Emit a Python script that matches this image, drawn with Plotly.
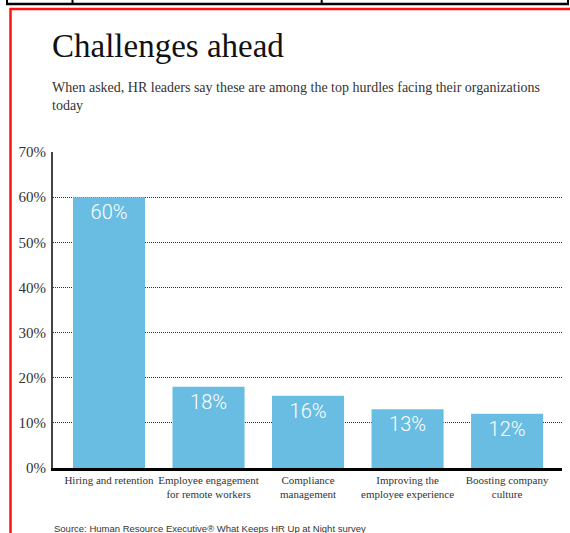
import plotly.graph_objects as go

# ---- data ----
categories = [
    "Hiring and retention",
    "Employee engagement<br>for remote workers",
    "Compliance<br>management",
    "Improving the<br>employee experience",
    "Boosting company<br>culture",
]
values = [60, 18, 16, 13, 12]
tick_values = [0, 10, 20, 30, 40, 50, 60, 70]
tick_labels = [f"{t}%" for t in tick_values]

title_text = "Challenges ahead"
subtitle_text = ("When asked, HR leaders say these are among the top hurdles facing their organizations"
                 "<br>today")
source_text = "Source: Human Resource Executive® What Keeps HR Up at Night survey"

# ---- layout geometry (pixels) ----
W, H = 570, 533
L, R, T, B = 53, 8, 152, 65
PW, PH = W - L - R, H - T - B


def px2x(px):
    return (px - L) / PW


def py2y(py):
    return (H - B - py) / PH


SERIF = "Liberation Serif"
xs = list(range(len(categories)))

fig = go.Figure()
fig.add_trace(go.Bar(
    x=xs,
    y=values,
    width=0.724,
    marker=dict(color="#69bde3", line=dict(width=0)),
    text=[f"{v}%" for v in values],
    textposition="inside",
    insidetextanchor="end",
    textangle=0,
    textfont=dict(family="Roboto", size=20, color="white", weight=300),
    hoverinfo="skip",
))

shapes = []
# black table lines at top
shapes.append(dict(type="line", xref="paper", yref="paper",
                   x0=px2x(6), x1=px2x(569), y0=py2y(4), y1=py2y(4),
                   line=dict(color="black", width=2.5)))
for vx in [7, 72.5, 321.7, 568]:
    shapes.append(dict(type="line", xref="paper", yref="paper",
                       x0=px2x(vx), x1=px2x(vx), y0=py2y(-5), y1=py2y(4),
                       line=dict(color="black", width=2)))
# red frame
shapes.append(dict(type="line", xref="paper", yref="paper",
                   x0=px2x(10), x1=px2x(580), y0=py2y(9), y1=py2y(9),
                   line=dict(color="#ff1010", width=2.5)))
shapes.append(dict(type="line", xref="paper", yref="paper",
                   x0=px2x(10.5), x1=px2x(10.5), y0=py2y(8), y1=py2y(545),
                   line=dict(color="#ff1010", width=2.5)))

annotations = [
    dict(text=title_text, xref="paper", yref="paper", x=px2x(50), y=py2y(66),
         xanchor="left", yanchor="bottom", showarrow=False,
         font=dict(family=SERIF, size=33, color="#111")),
    dict(text=subtitle_text, xref="paper", yref="paper", x=px2x(50), y=py2y(78),
         xanchor="left", yanchor="top", showarrow=False, align="left",
         font=dict(family=SERIF, size=14, color="#333")),
    dict(text=source_text, xref="paper", yref="paper", x=px2x(52), y=py2y(521),
         xanchor="left", yanchor="top", showarrow=False, align="left",
         font=dict(family="Liberation Sans Narrow, Liberation Sans", size=9.5, color="#333")),
]

fig.update_layout(
    width=W, height=H,
    margin=dict(l=L, r=R, t=T, b=B),
    paper_bgcolor="white", plot_bgcolor="white",
    showlegend=False,
    shapes=shapes,
    annotations=annotations,
    xaxis=dict(
        range=[-0.563, 4.552],
        tickvals=xs, ticktext=categories,
        showgrid=False, zeroline=False,
        showline=True, linecolor="black", linewidth=2.5,
        ticks="", tickangle=0,
        tickfont=dict(family=SERIF, size=11, color="#333"),
        fixedrange=True,
    ),
    yaxis=dict(
        range=[0, 70],
        tickvals=tick_values, ticktext=tick_labels,
        showgrid=True, gridcolor="#333", griddash="1px,1px", gridwidth=1,
        zeroline=False,
        showline=True, linecolor="#444", linewidth=2,
        ticks="", ticklabelstandoff=2,
        tickfont=dict(family=SERIF, size=15, color="#333"),
        fixedrange=True,
    ),
)

fig.write_html("out.html", config={"displayModeBar": False})
